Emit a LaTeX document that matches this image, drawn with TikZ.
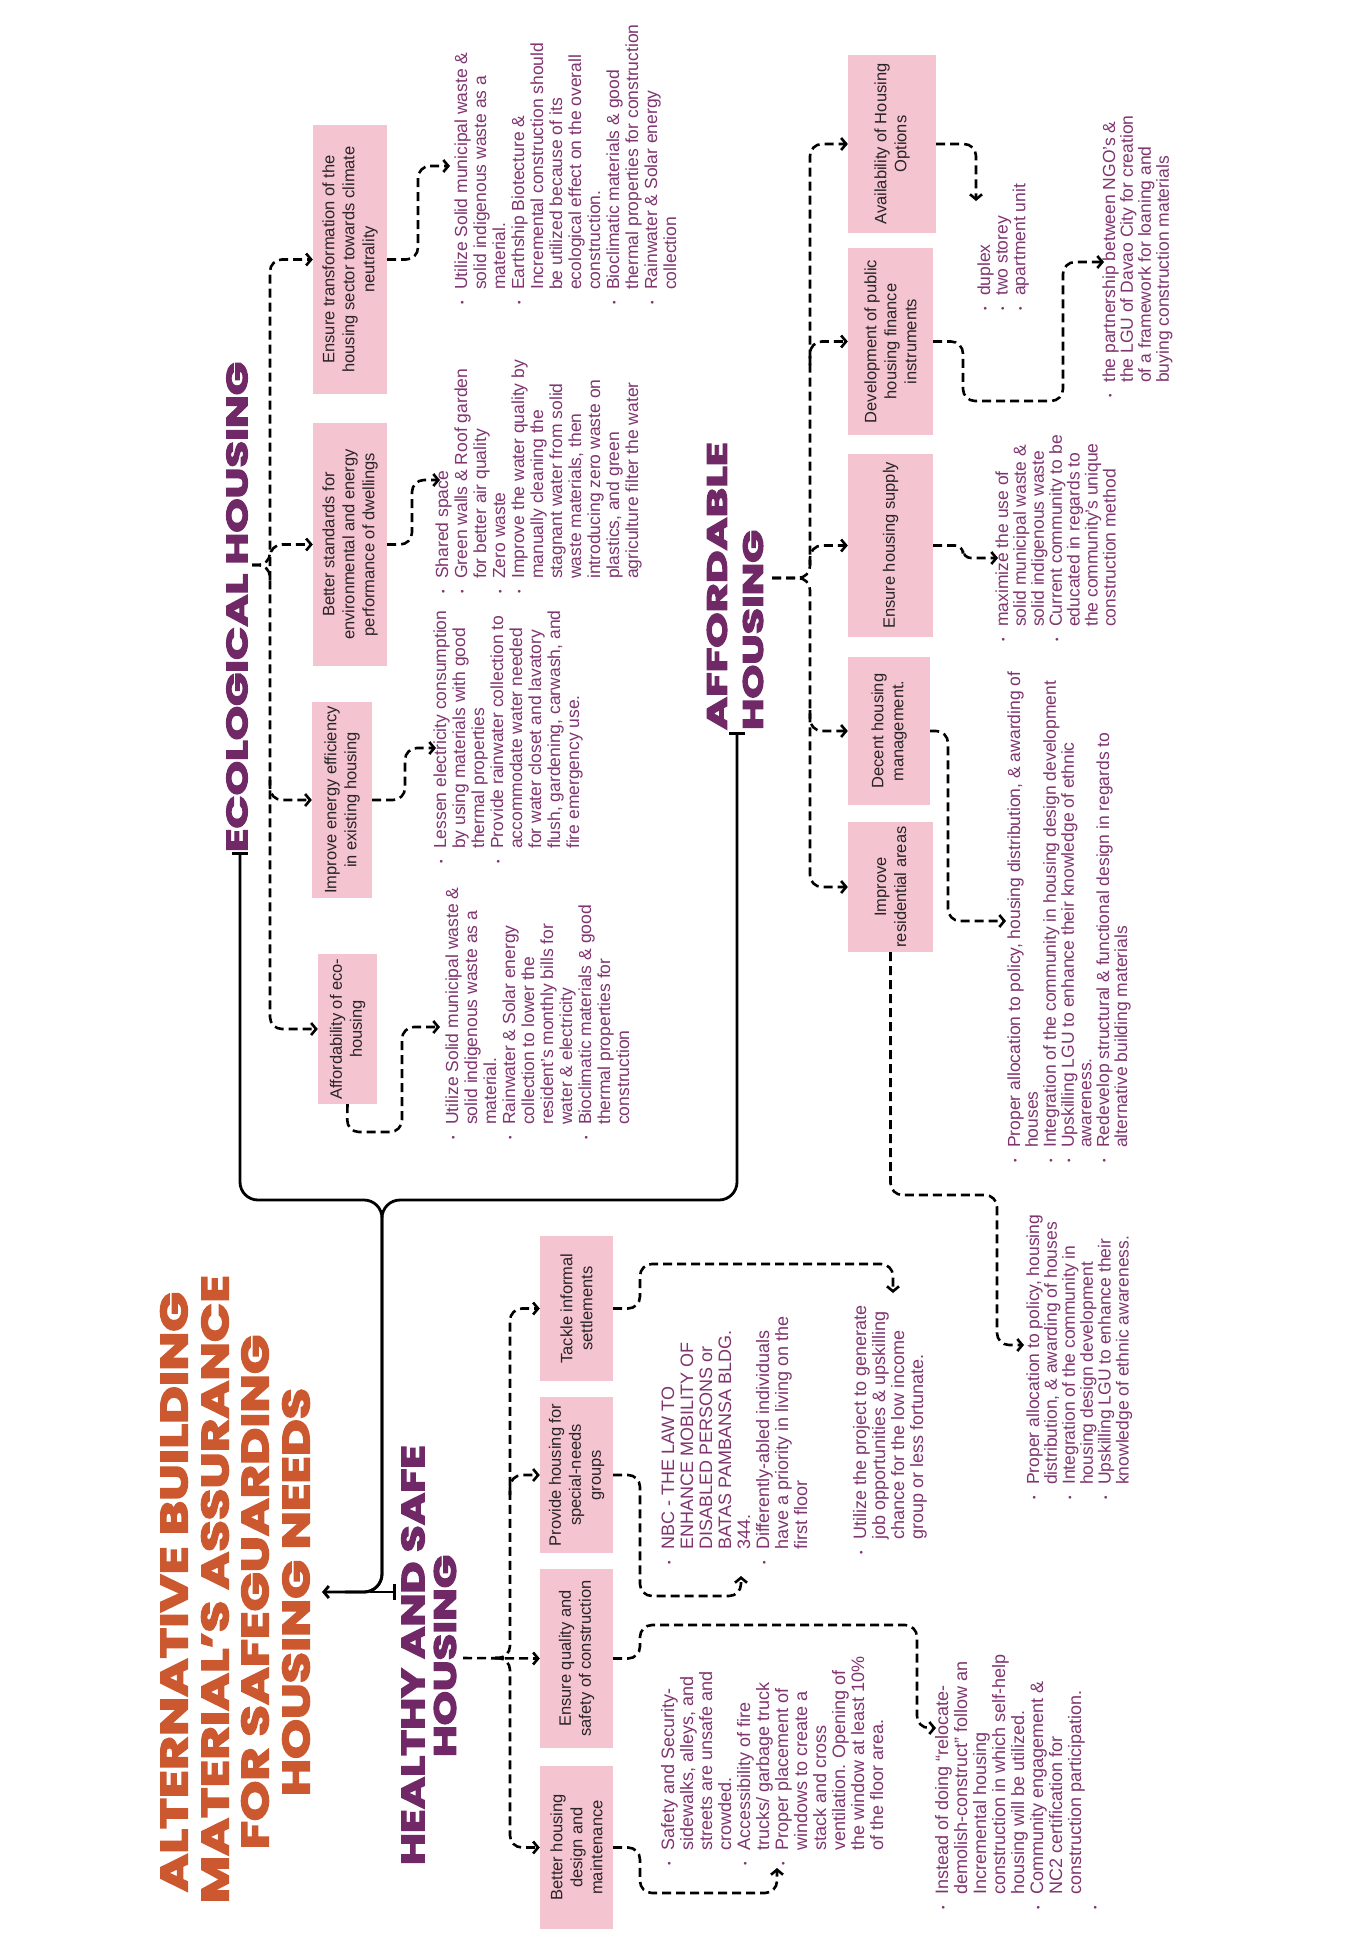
\documentclass[tikz,border=0pt]{standalone}
\usepackage{fontspec}
\usepackage{graphicx}
\setmainfont{Liberation Sans}
\newfontfamily\headfont{Poppins}[FakeBold=3.5]
\usetikzlibrary{arrows.meta}
\definecolor{boxpink}{RGB}{244,196,208}
\definecolor{boxtext}{RGB}{40,35,40}
\definecolor{listc}{RGB}{128,52,112}
\definecolor{headc}{RGB}{112,40,102}
\definecolor{titlec}{RGB}{204,88,48}
\newcommand\bu{\makebox[15pt][l]{\fontsize{10}{10}\selectfont\raisebox{1.5pt}{\textbullet}}}
\newcommand\ind{\hspace*{15pt}}
\newcommand\lst[1]{\begin{tabular}[t]{@{}l@{}}#1\end{tabular}}
\begin{document}
\begin{tikzpicture}[x=1pt,y=-1pt,
  box/.style={fill=boxpink, rotate=90, align=center, inner sep=3pt, text=boxtext, font={\fontsize{16.5}{20}\selectfont}},
  lstA/.style={rotate=90, anchor=base west, inner sep=0pt, text=listc, font={\fontsize{17.5}{19}\selectfont}},
  lstH/.style={rotate=90, anchor=base west, inner sep=0pt, text=listc, font={\fontsize{18}{19}\selectfont}},
  lstB/.style={rotate=90, anchor=base west, inner sep=0pt, text=listc, font={\fontsize{17.5}{17.5}\selectfont}},
  ttl/.style={rotate=90, inner sep=0pt, text=titlec, font={\headfont\bfseries}},
  hd/.style={rotate=90, inner sep=0pt, text=headc, font={\headfont\bfseries}},
  dsh/.style={line width=2.6pt, dash pattern=on 9pt off 5pt, rounded corners=12pt},
  arr/.style={-{Straight Barb[length=5pt,width=12pt]}},
  sol/.style={line width=2.8pt, rounded corners=18pt}]
\useasboundingbox[fill=white] (0,0) rectangle (1367,1952);

% ---------- title ----------
\node[ttl] (t1) at (174,1592) {\resizebox{600pt}{27pt}{ALTERNATIVE BUILDING}};
\node[ttl] (t2) at (215,1589) {\resizebox{628pt}{27pt}{MATERIAL’S ASSURANCE}};
\node[ttl] (t3) at (255,1592) {\resizebox{514pt}{27pt}{FOR SAFEGUARDING}};
\node[ttl] (t4) at (296,1592) {\resizebox{408pt}{27pt}{HOUSING NEEDS}};

% ---------- headings ----------
\node[hd] (eco) at (237,607) {\resizebox{490pt}{21pt}{ECOLOGICAL HOUSING}};
\node[hd] (aff1) at (717,586) {\resizebox{288pt}{20pt}{AFFORDABLE}};
\node[hd] (aff2) at (753,630) {\resizebox{200pt}{20pt}{HOUSING}};
\node[hd] (hs1) at (413,1655) {\resizebox{420pt}{23pt}{HEALTHY AND SAFE}};
\node[hd] (hs2) at (445,1656) {\resizebox{202pt}{22pt}{HOUSING}};

% ---------- boxes ----------
\node[box, minimum width=269pt, minimum height=74pt] (E1) at (350,259.5) {Ensure transformation of the\\housing sector towards climate\\neutrality};
\node[box, minimum width=243pt, minimum height=74pt] (E2) at (350,544.5) {Better standards for\\environmental and energy\\performance of dwellings};
\node[box, minimum width=196pt, minimum height=60pt] (E3) at (342,800) {Improve energy efficiency\\in existing housing};
\node[box, minimum width=150pt, minimum height=59pt] (E4) at (347.5,1029) {Affordability of eco-\\housing};

\node[box, minimum width=178pt, minimum height=88pt] (A1) at (892,144) {Availability of Housing\\Options};
\node[box, minimum width=187pt, minimum height=85pt] (A2) at (890.5,341.5) {Development of public\\housing finance\\instruments};
\node[box, minimum width=183pt, minimum height=85pt] (A3) at (890.5,545.5) {Ensure housing supply};
\node[box, minimum width=148pt, minimum height=82pt] (A4) at (889,731) {Decent housing\\management.};
\node[box, minimum width=130pt, minimum height=85pt] (A5) at (890.5,887) {Improve\\residential areas};

\node[box, minimum width=145pt, minimum height=73pt] (H1) at (576.5,1308.5) {Tackle informal\\settlements};
\node[box, minimum width=156pt, minimum height=73pt] (H2) at (576.5,1475) {Provide housing for\\special-needs\\groups};
\node[box, minimum width=179pt, minimum height=73pt] (H3) at (576.5,1658.5) {Ensure quality and\\safety of construction};
\node[box, minimum width=163pt, minimum height=73pt] (H4) at (576.5,1847.5) {Better housing\\design and\\maintenance};

% ---------- lists ----------
\node[lstA] (LD) at (467,305) {\lst{\bu Utilize Solid municipal waste \&\\
\ind solid indigenous waste as a\\
\ind material.\\
\bu Earthship Biotecture \&\\
\ind Incremental construction should\\
\ind be utilized because of its\\
\ind ecological effect on the overall\\
\ind construction.\\
\bu Bioclimatic materials \& good\\
\ind thermal properties for construction\\
\bu Rainwater \& Solar energy\\
\ind collection}};
\node[lstA] (LC) at (448,594) {\lst{\bu Shared space\\
\bu Green walls \& Roof garden\\
\ind for better air quality\\
\bu Zero waste\\
\bu Improve the water quality by\\
\ind manually cleaning the\\
\ind stagnant water from solid\\
\ind waste materials, then\\
\ind introducing zero waste on\\
\ind plastics, and green\\
\ind agriculture filter the water}};
\node[lstA] (LB) at (446,864) {\lst{\bu Lessen electricity consumption\\
\ind by using materials with good\\
\ind thermal properties\\
\bu Provide rainwater collection to\\
\ind accommodate water needed\\
\ind for water closet and lavatory\\
\ind flush, gardening, carwash, and\\
\ind fire emergency use.}};
\node[lstA] (LA) at (458,1140) {\lst{\bu Utilize Solid municipal waste \&\\
\ind solid indigenous waste as a\\
\ind material.\\
\bu Rainwater \& Solar energy\\
\ind collection to lower the\\
\ind resident's monthly bills for\\
\ind water \& electricity\\
\bu Bioclimatic materials \& good\\
\ind thermal properties for\\
\ind construction}};

\node[lstB] (L1) at (990,311) {\lst{\bu duplex\\ \bu two storey\\ \bu apartment unit}};
\node[lstB] (L2) at (1115,398) {\lst{\bu the partnership between NGO's \&\\
\ind the LGU of Davao City for creation\\
\ind of a framework for loaning and\\
\ind buying construction materials}};
\node[lstB] (L3) at (1008,642) {\lst{\bu maximize the use of\\
\ind solid municipal waste \&\\
\ind solid indigenous waste\\
\bu Current community to be\\
\ind educated in regards to\\
\ind the community's unique\\
\ind construction method}};
\node[lstB] (L4) at (1020,1163) {\lst{\bu Proper allocation to policy, housing distribution, \& awarding of\\
\ind houses\\
\bu Integration of the community in housing design development\\
\bu Upskilling LGU to enhance their knowledge of ethnic\\
\ind awareness.\\
\bu Redevelop structural \& functional design in regards to\\
\ind alternative building materials}};
\node[lstB] (L5) at (1039,1500) {\lst{\bu Proper allocation to policy, housing\\
\ind distribution, \& awarding of houses\\
\bu Integration of the community in\\
\ind housing design development\\
\bu Upskilling LGU to enhance their\\
\ind knowledge of ethnic awareness.}};

\node[lstH] (M1) at (866,1555) {\lst{\bu Utilize the project to generate\\
\ind job opportunities \& upskilling\\
\ind chance for the low income\\
\ind group or less fortunate.}};
\node[lstH] (M2) at (674,1565) {\lst{\bu NBC - THE LAW TO\\
\ind ENHANCE MOBILITY OF\\
\ind DISABLED PERSONS or\\
\ind BATAS PAMBANSA BLDG.\\
\ind 344.\\
\bu Differently-abled individuals\\
\ind have a priority in living on the\\
\ind first floor}};
\node[lstH] (M3) at (948,1910) {\lst{\bu Instead of doing ``relocate-\\
\ind demolish-construct'' follow an\\
\ind Incremental housing\\
\ind construction in which self-help\\
\ind housing will be utilized.\\
\bu Community engagement \&\\
\ind NC2 certification for\\
\ind construction participation.\\
\bu}};
\node[lstH] (M4) at (674,1866) {\lst{\bu Safety and Security-\\
\ind sidewalks, alleys, and\\
\ind streets are unsafe and\\
\ind crowded.\\
\bu Accessibility of fire\\
\ind trucks/ garbage truck\\
\bu Proper placement of\\
\ind windows to create a\\
\ind stack and cross\\
\ind ventilation. Opening of\\
\ind the window at least 10\%\\
\ind of the floor area.}};

% ---------- solid main connectors ----------
\coordinate (ecoend) at (240,852);
\coordinate (affend) at (737,732);
\coordinate (hsend) at (396,1592);
\coordinate (ttlend) at (322,1592);
\draw[sol, {Bar[width=16pt]}-{Straight Barb[length=5pt,width=12pt]}] (ecoend) -- (240,1200) -- (382,1200) -- (382,1592) -- (ttlend);
\draw[sol, {Bar[width=16pt]}-] (affend) -- (737,1200) -- (382,1200) -- (382,1592) -- (345,1592);
\draw[line width=2.8pt, -{Bar[width=16pt]}] (370,1592) -- (hsend);

% ---------- ecological dashed ----------
\coordinate (ej) at (252,565);
\draw[dsh,arr] (ej) -| (270,259.5) -- (E1.north);
\draw[dsh,arr] (ej) -| (270,1029) -- (E4.north);
\draw[dsh,arr] (270,580) |- (E2.north);
\draw[dsh,arr] (270,780) |- (E3.north);

\draw[dsh,arr] (E1.south) -- (418,259.5) -- (418,166) -- (450,166);
\draw[dsh,arr] (E2.south) -- (412,544.5) -- (412,480) -- (440,480);
\draw[dsh,arr] (E3.south) -- (405,800) -- (405,748) -- (436,748);
\draw[dsh,arr] (E4.west) -- (347,1132) -- (402,1132) -- (402,1027) -- (440,1027);

% ---------- affordable dashed ----------
\coordinate (aj) at (772,578);
\draw[dsh,arr] (aj) -| (810,144) -- (A1.north);
\draw[dsh,arr] (aj) -| (810,887) -- (A5.north);
\draw[dsh,arr] (810,365) |- (A2.north);
\draw[dsh,arr] (810,565) |- (A3.north);
\draw[dsh,arr] (810,710) |- (A4.north);

\draw[dsh,arr] (A1.south) -- (976,144) -- (976,201);
\draw[dsh,arr] (A2.south) -- (963,341.5) -- (963,401) -- (1063,401) -- (1063,262) -- (1104,262);
\draw[dsh,arr,rounded corners=8pt] (A3.south) -- (963,545.5) -- (963,558) -- (998,558);
\draw[dsh,arr] (A4.south) -- (948,731) -- (948,921) -- (1006,921);
\draw[dsh,arr] (A5.west) -- (890.5,1195) -- (997,1195) -- (997,1345) -- (1024,1345);

% ---------- healthy dashed ----------
\coordinate (hj) at (463,1658);
\draw[dsh,arr] (hj) -- (H3.north);
\draw[dsh,arr] (495,1658) -| (510,1308.5) -- (H1.north);
\draw[dsh,arr] (495,1658) -| (510,1847.5) -- (H4.north);
\draw[dsh,arr] (510,1495) |- (H2.north);

\draw[dsh,arr] (H1.south) -- (640,1308.5) -- (640,1264) -- (893,1264) -- (893,1293);
\draw[dsh,arr] (H2.south) -- (640,1475) -- (640,1596) -- (741,1596) -- (741,1576);
\draw[dsh,arr] (H3.south) -- (640,1658.5) -- (640,1625) -- (917,1625) -- (917,1728) -- (936,1728);
\draw[dsh,arr] (H4.south) -- (640,1847.5) -- (640,1893) -- (777,1893) -- (777,1868);
\end{tikzpicture}
\end{document}
